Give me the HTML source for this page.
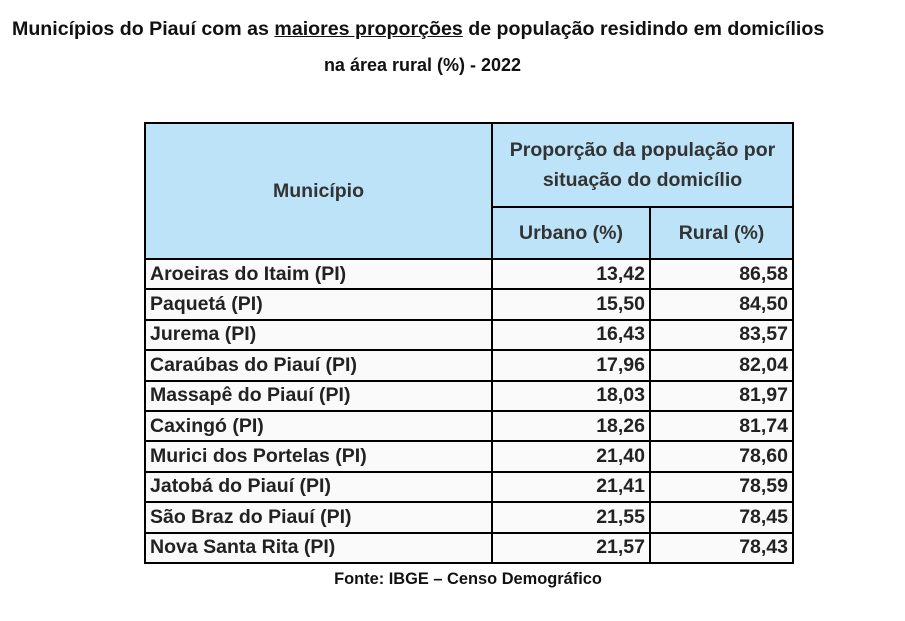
<!DOCTYPE html>
<html><head><meta charset="utf-8"><style>
body{margin:0;width:905px;height:621px;background:#fff;font-family:"Liberation Sans",sans-serif;position:relative;overflow:hidden}
.t{position:absolute;font-weight:bold;color:#111;font-size:17px;white-space:nowrap}
table{position:absolute;left:144px;top:122px;border-collapse:collapse;width:650px;font-weight:bold;font-size:19.5px;color:#222}
td{border:2px solid #000;padding:0 4px}
tr.d{height:30.4px}
.h{background:#bde3f9;color:#333;text-align:center}
.n{text-align:right}
tbody tr.d td{background:#fafafa}
</style></head><body>
<div class="t" style="left:12px;top:18px;font-size:19.6px">Municípios do Piauí com as <u>maiores proporções</u> de população residindo em domicílios</div>
<div class="t" style="left:0;width:845px;text-align:center;top:55px;font-size:18px">na área rural (%) - 2022</div>
<table>
<tr style="height:84px"><td class="h" rowspan="2" style="width:337px">Município</td><td class="h" colspan="2" style="line-height:30px">Proporção da população por<br>situação do domicílio</td></tr>
<tr style="height:52px"><td class="h" style="width:148px">Urbano (%)</td><td class="h">Rural (%)</td></tr>
<tr class="d"><td>Aroeiras do Itaim (PI)</td><td class="n">13,42</td><td class="n">86,58</td></tr>
<tr class="d"><td>Paquetá (PI)</td><td class="n">15,50</td><td class="n">84,50</td></tr>
<tr class="d"><td>Jurema (PI)</td><td class="n">16,43</td><td class="n">83,57</td></tr>
<tr class="d"><td>Caraúbas do Piauí (PI)</td><td class="n">17,96</td><td class="n">82,04</td></tr>
<tr class="d"><td>Massapê do Piauí (PI)</td><td class="n">18,03</td><td class="n">81,97</td></tr>
<tr class="d"><td>Caxingó (PI)</td><td class="n">18,26</td><td class="n">81,74</td></tr>
<tr class="d"><td>Murici dos Portelas (PI)</td><td class="n">21,40</td><td class="n">78,60</td></tr>
<tr class="d"><td>Jatobá do Piauí (PI)</td><td class="n">21,41</td><td class="n">78,59</td></tr>
<tr class="d"><td>São Braz do Piauí (PI)</td><td class="n">21,55</td><td class="n">78,45</td></tr>
<tr class="d"><td>Nova Santa Rita (PI)</td><td class="n">21,57</td><td class="n">78,43</td></tr>
</table>
<div class="t" style="left:0;width:936px;text-align:center;top:570px;font-size:16.4px">Fonte: IBGE – Censo Demográfico</div>
</body></html>
